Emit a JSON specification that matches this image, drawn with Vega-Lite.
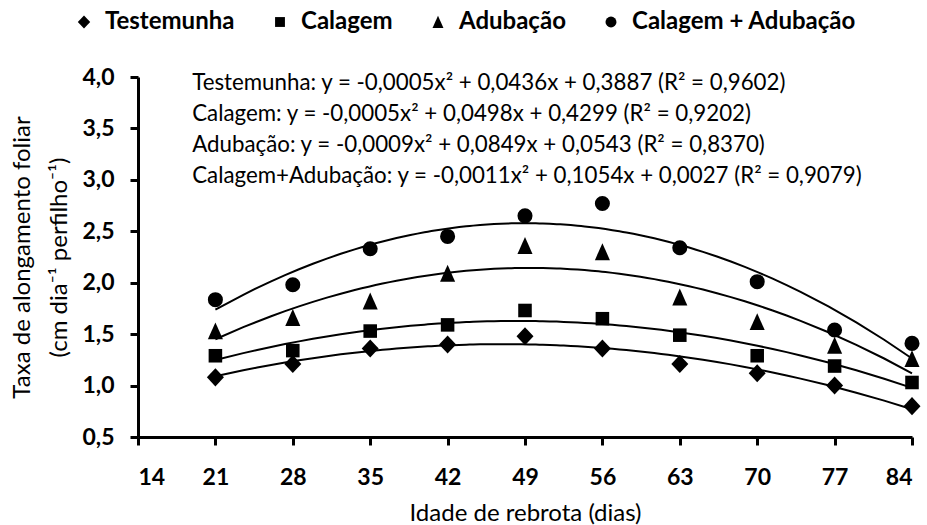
{
  "$schema": "https://vega.github.io/schema/vega-lite/v6.json",
  "width": 774,
  "height": 360,
  "autosize": {"type": "none"},
  "padding": {"left": 138, "top": 77, "right": 15, "bottom": 88},
  "background": "white",
  "config": {
    "view": {"stroke": null},
    "font": "Lato",
    "axis": {
      "grid": false,
      "domainColor": "#000",
      "domainWidth": 3,
      "tickColor": "#000",
      "tickWidth": 3,
      "tickSize": 8,
      "labelColor": "#000",
      "labelFont": "Lato",
      "labelFontWeight": "bold",
      "labelFontSize": 23,
      "titleColor": "#000",
      "titleFont": "Lato",
      "titleFontWeight": "normal",
      "titleFontSize": 24
    }
  },
  "data": {
    "values": [
      {"serie": "Testemunha", "x": 21, "y": 1.08},
      {"serie": "Testemunha", "x": 28, "y": 1.21},
      {"serie": "Testemunha", "x": 35, "y": 1.36},
      {"serie": "Testemunha", "x": 42, "y": 1.40},
      {"serie": "Testemunha", "x": 49, "y": 1.48},
      {"serie": "Testemunha", "x": 56, "y": 1.36},
      {"serie": "Testemunha", "x": 63, "y": 1.21},
      {"serie": "Testemunha", "x": 70, "y": 1.12},
      {"serie": "Testemunha", "x": 77, "y": 1.00},
      {"serie": "Testemunha", "x": 84, "y": 0.80},
      {"serie": "Calagem", "x": 21, "y": 1.29},
      {"serie": "Calagem", "x": 28, "y": 1.34},
      {"serie": "Calagem", "x": 35, "y": 1.53},
      {"serie": "Calagem", "x": 42, "y": 1.59},
      {"serie": "Calagem", "x": 49, "y": 1.73},
      {"serie": "Calagem", "x": 56, "y": 1.65},
      {"serie": "Calagem", "x": 63, "y": 1.49},
      {"serie": "Calagem", "x": 70, "y": 1.29},
      {"serie": "Calagem", "x": 77, "y": 1.19},
      {"serie": "Calagem", "x": 84, "y": 1.03},
      {"serie": "Adubação", "x": 21, "y": 1.53},
      {"serie": "Adubação", "x": 28, "y": 1.66},
      {"serie": "Adubação", "x": 35, "y": 1.82},
      {"serie": "Adubação", "x": 42, "y": 2.09},
      {"serie": "Adubação", "x": 49, "y": 2.36},
      {"serie": "Adubação", "x": 56, "y": 2.30},
      {"serie": "Adubação", "x": 63, "y": 1.86},
      {"serie": "Adubação", "x": 70, "y": 1.62},
      {"serie": "Adubação", "x": 77, "y": 1.39},
      {"serie": "Adubação", "x": 84, "y": 1.26},
      {"serie": "Calagem + Adubação", "x": 21, "y": 1.835},
      {"serie": "Calagem + Adubação", "x": 28, "y": 1.98},
      {"serie": "Calagem + Adubação", "x": 35, "y": 2.33},
      {"serie": "Calagem + Adubação", "x": 42, "y": 2.45},
      {"serie": "Calagem + Adubação", "x": 49, "y": 2.65},
      {"serie": "Calagem + Adubação", "x": 56, "y": 2.77},
      {"serie": "Calagem + Adubação", "x": 63, "y": 2.34},
      {"serie": "Calagem + Adubação", "x": 70, "y": 2.01},
      {"serie": "Calagem + Adubação", "x": 77, "y": 1.54},
      {"serie": "Calagem + Adubação", "x": 84, "y": 1.41}
    ]
  },
  "layer": [
    {
      "transform": [
        {"regression": "y", "on": "x", "groupby": ["serie"], "method": "poly", "order": 2, "extent": [21, 84]}
      ],
      "mark": {"type": "line", "color": "#000", "strokeWidth": 2},
      "encoding": {
        "x": {"field": "x", "type": "quantitative"},
        "y": {"field": "y", "type": "quantitative"},
        "detail": {"field": "serie"}
      }
    },
    {
      "mark": {"type": "point", "filled": true, "color": "#000", "opacity": 1, "size": 227},
      "encoding": {
        "x": {
          "field": "x", "type": "quantitative",
          "scale": {"domain": [14, 84], "nice": false, "zero": false},
          "axis": {"values": [14, 21, 28, 35, 42, 49, 56, 63, 70, 77, 84], "labelPadding": 21, "title": "Idade de rebrota (dias)", "titlePadding": 12}
        },
        "y": {
          "field": "y", "type": "quantitative",
          "scale": {"domain": [0.5, 4], "nice": false, "zero": false},
          "axis": {
            "values": [0.5, 1, 1.5, 2, 2.5, 3, 3.5, 4],
            "labelExpr": "replace(format(datum.value, '.1f'), '.', ',')",
            "labelPadding": 16,
            "title": ["Taxa de alongamento foliar", "(cm dia⁻¹ perfilho⁻¹)"],
            "titleLineHeight": 37,
            "titlePadding": 10
          }
        },
        "shape": {
          "field": "serie", "type": "nominal",
          "scale": {
            "domain": ["Testemunha", "Calagem", "Adubação", "Calagem + Adubação"],
            "range": [
              "M-1.13,0L0,-1.2L1.13,0L0,1.2Z",
              "M-0.9,-0.9L0.9,-0.9L0.9,0.9L-0.9,0.9Z",
              "M0,-1.15L1,1.1L-1,1.1Z",
              "circle"
            ]
          },
          "legend": {
            "title": null,
            "orient": "none",
            "direction": "horizontal",
            "legendX": -66,
            "legendY": -67,
            "labelFont": "Lato",
            "labelFontWeight": "bold",
            "labelFontSize": 24,
            "labelColor": "#000",
            "labelLimit": 500,
            "symbolFillColor": "#000",
            "symbolStrokeColor": "#000",
            "symbolStrokeWidth": 0,
            "symbolSize": 120,
            "labelOffset": 9,
            "columnPadding": 33
          }
        }
      }
    },
    {
      "data": {"values": [{"id": "equacoes"}]},
      "mark": {
        "type": "text",
        "align": "left",
        "baseline": "alphabetic",
        "font": "Lato",
        "fontSize": 22.3,
        "color": "#000",
        "lineHeight": 31,
        "text": [
          "Testemunha: y = -0,0005x² + 0,0436x + 0,3887 (R² = 0,9602)",
          "Calagem: y =  -0,0005x² + 0,0498x +  0,4299 (R² = 0,9202)",
          "Adubação: y = -0,0009x² + 0,0849x + 0,0543 (R² = 0,8370)",
          "Calagem+Adubação: y = -0,0011x² + 0,1054x + 0,0027 (R² = 0,9079)"
        ]
      },
      "encoding": {
        "x": {"datum": 18.9, "type": "quantitative"},
        "y": {"datum": 3.87, "type": "quantitative"}
      }
    }
  ]
}
